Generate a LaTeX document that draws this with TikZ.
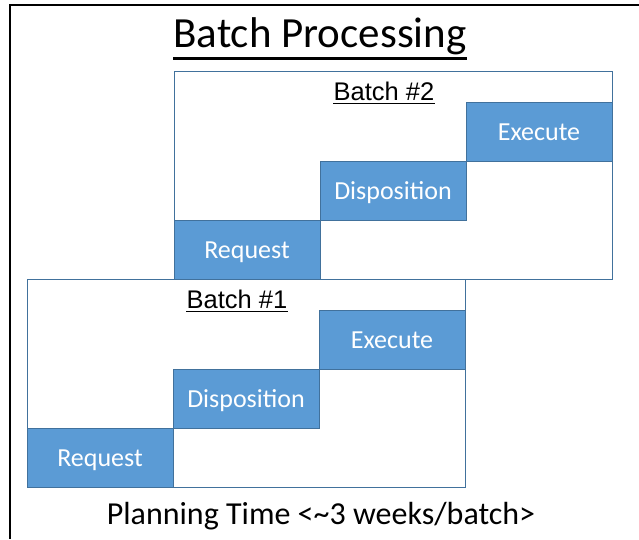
\documentclass[tikz,border=0pt]{standalone}
\usepackage{fontspec}
\setmainfont{Carlito}
\newfontfamily\arialfont{Liberation Sans}
\usetikzlibrary{positioning}
\definecolor{stepblue}{RGB}{91,155,213}
\definecolor{boxline}{RGB}{65,113,156}
\begin{document}
\begin{tikzpicture}[x=1pt,y=-1pt]
	\tikzstyle{batch}=[draw=boxline,line width=0.8pt,minimum width=438pt,minimum height=208pt,inner sep=0pt]
	\tikzstyle{stage}=[batch,fill=stepblue,minimum width=146pt,minimum height=59pt,text=white,text height=17pt,text depth=0pt,font=\fontsize{26}{31}\selectfont]
	\tikzstyle{batch label}=[inner sep=0pt,font=\arialfont\fontsize{25.5}{30}\selectfont]
	\tikzstyle{underline}=[line width=1.2pt]
	\useasboundingbox (0,0) rectangle (639,539);
	
	% Marco
	\draw[line width=2.5pt] (639,5) -- (10,5) -- (10,539);
	
	% Titulo
	\node[inner sep=0pt,anchor=base,font=\fontsize{43}{51}\selectfont] (title) at (320,47) {Batch Processing};
	\draw[line width=3pt] ([yshift=-11pt]title.base west) -- ([yshift=-11pt]title.base east);
	
	% Lote 2
	\node[batch] (B2) at (393,175) {};
	\foreach \name/\text [count=\i] in {req/Request,disp/Disposition,exe/Execute}
	\node[stage,anchor=south west] (B2-\name) at ([shift={({(\i-1)*146},{-(\i-1)*59})}]B2.south west) {\text};
	\node[batch label,anchor=base] (L2) at ([shift={(-9,30)}]B2.north) {Batch \#2};
	\draw[underline] ([yshift=-2.5pt]L2.base west) -- ([yshift=-2.5pt]L2.base east);
	
	% Lote 1
	\node[batch] (B1) at (246,383) {};
	\foreach \name/\text [count=\i] in {req/Request,disp/Disposition,exe/Execute}
	\node[stage,anchor=south west] (B1-\name) at ([shift={({(\i-1)*146},{-(\i-1)*59})}]B1.south west) {\text};
	\node[batch label,anchor=base] (L1) at ([shift={(-9,30)}]B1.north) {Batch \#1};
	\draw[underline] ([yshift=-2.5pt]L1.base west) -- ([yshift=-2.5pt]L1.base east);
	
	% Pie
	\node[inner sep=0pt,anchor=base,font=\fontsize{32}{38}\selectfont] (foot) at (321,524) {Planning Time <\textasciitilde 3 weeks/batch>};
\end{tikzpicture}
\end{document}
